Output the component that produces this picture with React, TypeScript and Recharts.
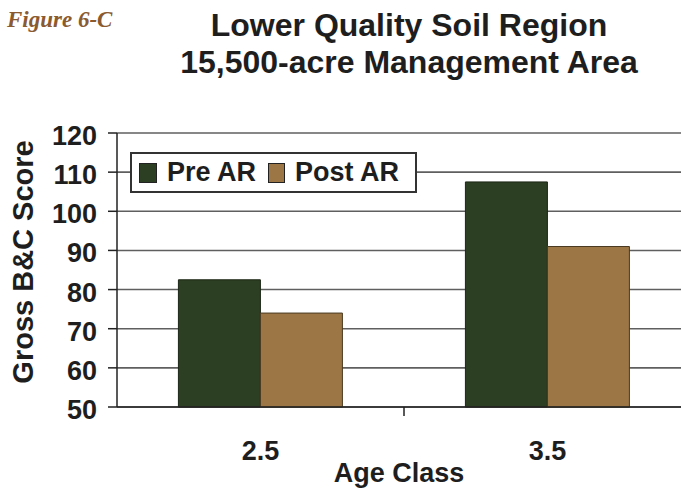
import React from 'react';
import { BarChart, Bar, XAxis, YAxis, CartesianGrid, Legend } from 'recharts';

// values
const ageClasses = ['2.5', '3.5'];
const preAR = [82.5, 107.5];
const postAR = [74, 91];
const yTicks = [50, 60, 70, 80, 90, 100, 110, 120];

const PRE_COLOR = '#2c3f22';
const POST_COLOR = '#9c7645';
const FONT = '"Liberation Sans", Arial, sans-serif';

const data = ageClasses.map((age, i) => ({ age, pre: preAR[i], post: postAR[i] }));

const YTick = (props: any) => {
    const { x, y, payload } = props;
    return (
        <text x={x} y={y} dy={12} textAnchor="end" fontFamily={FONT} fontSize={27} fontWeight="bold" fill="#1e1e1e">
            {payload.value}
        </text>
    );
};

const XTick = (props: any) => {
    const { x, y, payload, index, visibleTicksCount } = props;
    const off = payload.offset || 0;
    return (
        <g>
            {index < visibleTicksCount - 1 && (
                <line x1={x + off} x2={x + off} y1={y} y2={y + 9} stroke="#222" strokeWidth={1.5} />
            )}
            <text x={x} y={y + 53} textAnchor="middle" fontFamily={FONT} fontSize={27} fontWeight="bold" fill="#1e1e1e">
                {payload.value}
            </text>
        </g>
    );
};

const LegendBox = () => (
    <div
        style={{
            display: 'flex',
            alignItems: 'center',
            width: 283,
            height: 37,
            border: '2px solid #333',
            background: '#fff',
            fontFamily: FONT,
            fontSize: 27,
            fontWeight: 'bold',
            color: '#1e1e1e',
            boxSizing: 'content-box',
        }}
    >
        <span style={{ width: 16, height: 18, background: PRE_COLOR, border: '1px solid #222', marginLeft: 7 }} />
        <span style={{ marginLeft: 10 }}>Pre AR</span>
        <span style={{ width: 15, height: 18, background: POST_COLOR, border: '1px solid #222', marginLeft: 12 }} />
        <span style={{ marginLeft: 10 }}>Post AR</span>
    </div>
);

export default function App() {
    return (
        <div style={{ position: 'absolute', left: 0, top: 0, width: 681, height: 490, overflow: 'hidden', background: '#fff' }}>
            <BarChart
                width={700}
                height={490}
                data={data}
                margin={{ top: 133, right: 9, left: 57, bottom: 53 }}
                barCategoryGap="21.4%"
                barGap={0}
            >
                <CartesianGrid vertical={false} stroke="#5f5f5f" strokeWidth={1.6} />
                <XAxis
                    dataKey="age"
                    height={30}
                    axisLine={{ stroke: '#222', strokeWidth: 1.5 }}
                    tickLine={false}
                    tickSize={0}
                    tickMargin={0}
                    tick={<XTick />}
                    interval={0}
                />
                <YAxis
                    width={60}
                    domain={[50, 120]}
                    ticks={yTicks}
                    interval={0}
                    axisLine={{ stroke: '#222', strokeWidth: 1.5 }}
                    tickLine={{ stroke: '#222', strokeWidth: 1.5 }}
                    tickSize={9}
                    tickMargin={11}
                    tick={<YTick />}
                />
                <Legend
                    layout="horizontal"
                    verticalAlign="middle"
                    align="center"
                    content={<LegendBox />}
                    wrapperStyle={{ position: 'absolute', left: 130, top: 152, width: 'auto', height: 'auto' }}
                />
                <Bar dataKey="pre" name="Pre AR" fill={PRE_COLOR} stroke="#1c2616" strokeWidth={1} isAnimationActive={false} />
                <Bar dataKey="post" name="Post AR" fill={POST_COLOR} stroke="#4a3a22" strokeWidth={1} isAnimationActive={false} />
            </BarChart>
            <svg width={681} height={490} style={{ position: 'absolute', left: 0, top: 0, pointerEvents: 'none' }}>
                <text x={7} y={27} fontFamily='"Liberation Serif", "Times New Roman", serif' fontStyle="italic" fontWeight="bold" fontSize={23} fill="#8b5a2f">
                    Figure 6-C
                </text>
                <text x={409} y={36} textAnchor="middle" fontFamily={FONT} fontSize={32} fontWeight="bold" fill="#1e1e1e">
                    Lower Quality Soil Region
                </text>
                <text x={409} y={73} textAnchor="middle" fontFamily={FONT} fontSize={32} fontWeight="bold" fill="#1e1e1e">
                    15,500-acre Management Area
                </text>
                <text transform="translate(33,262) rotate(-90)" textAnchor="middle" fontFamily={FONT} fontSize={29} fontWeight="bold" fill="#1e1e1e">
                    Gross B&amp;C Score
                </text>
                <text x={399} y={482} textAnchor="middle" fontFamily={FONT} fontSize={27} fontWeight="bold" fill="#1e1e1e">
                    Age Class
                </text>
            </svg>
        </div>
    );
}
